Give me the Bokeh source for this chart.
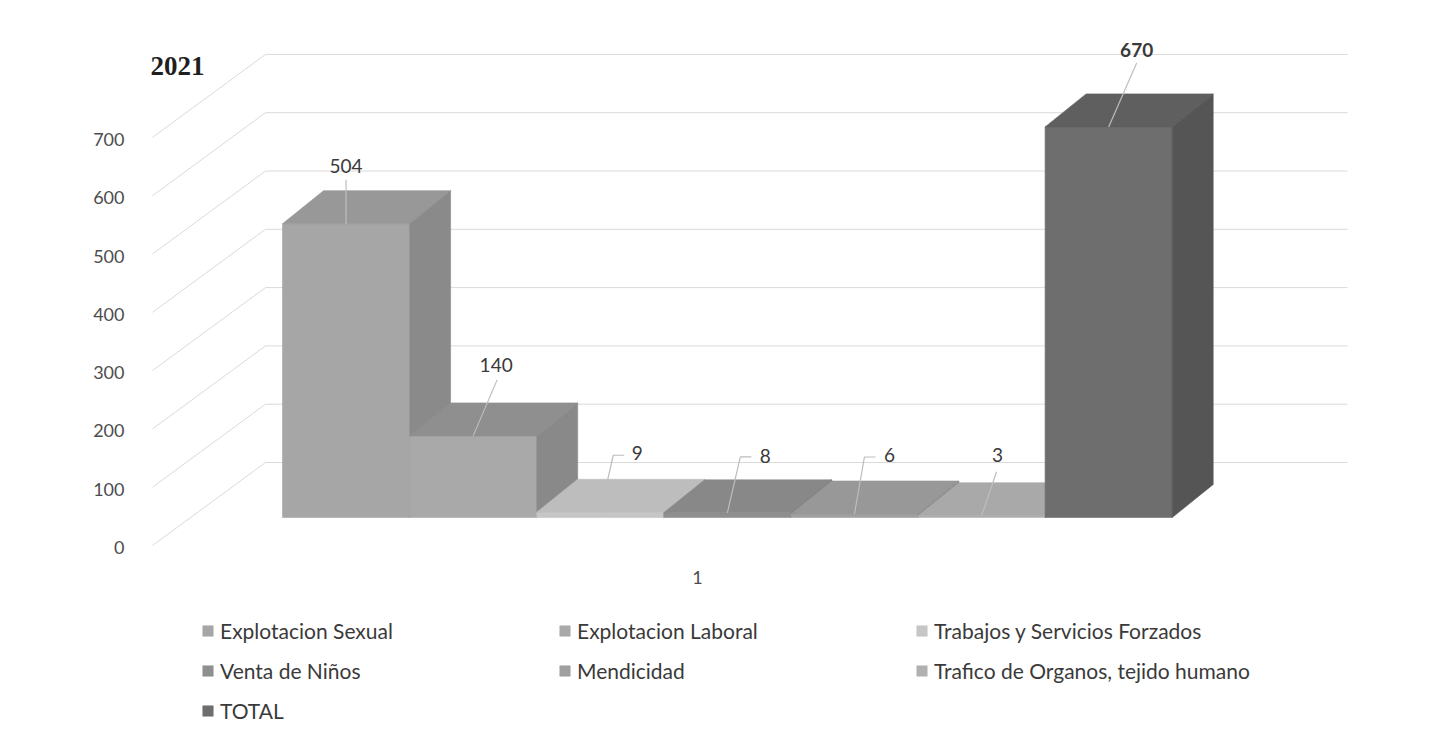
from bokeh.plotting import figure
from bokeh.models import (Range1d, LinearAxis, FixedTicker, CustomJSTickFormatter,
                          Legend, LegendItem, Label)
from bokeh.embed import file_html
from bokeh.resources import INLINE
from bokeh.core.properties import value

# ---------------- data ----------------
title_text = "2021"
categories = ["Explotacion Sexual", "Explotacion Laboral", "Trabajos y Servicios Forzados",
              "Venta de Niños", "Mendicidad", "Trafico de Organos, tejido humano", "TOTAL"]
values = [504, 140, 9, 8, 6, 3, 670]
y_ticks = [0, 100, 200, 300, 400, 500, 600, 700]
x_labels = ["1"]

# ---------------- styles ----------------
front_colors = ["#a6a6a6", "#a9a9a9", "#c6c6c6", "#8f8f8f", "#a0a0a0", "#b1b1b1", "#6e6e6e"]
top_colors = ["#989898", "#8f8f8f", "#bdbdbd", "#888888", "#989898", "#a9a9a9", "#5f5f5f"]
side_colors = ["#8a8a8a", "#898989", "#adadad", "#7b7b7b", "#8b8b8b", "#9c9c9c", "#555555"]
label_styles = ["normal"] * 6 + ["bold"]
# data-label leader offsets in pixels: (line dx, line dy, dash length, text dx, text dy)
label_offsets = [(0, 44, 0, 0, 58), (24, 56, 0, 23, 71), (13, 57, 11, 37, 59),
                 (13, 56, 11, 38, 57), (10, 57, 11, 35, 59), (15, 44, 0, 16, 61),
                 (28, 64, 0, 28, 77)]
TEXT_COLOR = "#3a3a3a"
FONT = "Lato"

PX_X = 127.1          # pixels per bar
PX_Y = 0.583          # pixels per value unit
DX = 41 / PX_X        # bar depth (x)
DY = 33 / PX_Y        # bar depth (y)
LAB_SHIFT = 30 / PX_Y # axis labels sit lower than bar floor
WALL_RISE = 55 / PX_Y # back wall above bar floor

LEFT, TOP = 145, 30           # frame position on the page
BAR_LEFT, FLOOR = 282, 517    # page position of bar 0 left edge / bar floor
FRAME_W, FRAME_H = 1205, 705
X0 = (LEFT - BAR_LEFT) / PX_X
X1 = X0 + FRAME_W / PX_X
Y0 = (FLOOR - (TOP + FRAME_H)) / PX_Y
Y1 = Y0 + FRAME_H / PX_Y

def ypage(py):
    """page pixel row -> value units"""
    return (FLOOR - py) / PX_Y

p = figure(frame_width=FRAME_W, frame_height=FRAME_H,
           x_range=Range1d(X0, X1), y_range=Range1d(Y0, Y1),
           output_backend="svg", toolbar_location=None,
           x_axis_location=None, y_axis_location=None,
           min_border_left=LEFT, min_border_right=78, min_border_top=TOP, min_border_bottom=0,
           outline_line_color=None, background_fill_color="white", border_fill_color="white")
p.grid.visible = False

# y axis (labels)
p.extra_y_ranges = {"lab": Range1d(Y0 + LAB_SHIFT, Y1 + LAB_SHIFT)}
yax = LinearAxis(y_range_name="lab", ticker=FixedTicker(ticks=y_ticks),
                 axis_line_color=None, major_tick_line_color=None, minor_tick_line_color=None,
                 major_label_standoff=15, major_label_text_font=FONT,
                 major_label_text_font_size="18px", major_label_text_color="#4d4d4d")
p.add_layout(yax, "left")

# x axis (category "1"), drawn just under the bars
xax = LinearAxis(ticker=FixedTicker(ticks=[len(values) / 2 - 30 / PX_X]),
                 formatter=CustomJSTickFormatter(args=dict(labels=x_labels), code="return labels[0]"),
                 fixed_location=ypage(585),
                 axis_line_color=None, major_tick_line_color=None, minor_tick_line_color=None,
                 major_tick_out=0, major_tick_in=0,
                 major_label_standoff=2, major_label_text_font=FONT,
                 major_label_text_font_size="18px", major_label_text_color="#4d4d4d")
p.add_layout(xax, "above")

# back wall gridlines
wall_xs, wall_ys = [], []
for t in y_ticks:
    wall_xs.append([(152 - BAR_LEFT) / PX_X, (265 - BAR_LEFT) / PX_X, X1 - 3 / PX_X])
    wall_ys.append([t - LAB_SHIFT + 2 / PX_Y, t + WALL_RISE, t + WALL_RISE])
p.multi_line(wall_xs, wall_ys, line_color="#dadada", line_width=1)

# 3D-looking bars
items = []
for i, (cat, v) in enumerate(zip(categories, values)):
    fr = p.quad(left=[i], right=[i + 1], bottom=[0], top=[v],
                fill_color=front_colors[i], line_color=front_colors[i], line_width=0.6)
    p.patches(xs=[[i, i + 1, i + 1 + DX, i + DX], [i + 1, i + 1 + DX, i + 1 + DX, i + 1]],
              ys=[[v, v, v + DY, v + DY], [0, DY, v + DY, v]],
              fill_color=[top_colors[i], side_colors[i]],
              line_color=[top_colors[i], side_colors[i]], line_width=0.6)
    items.append(LegendItem(label=cat, renderers=[fr]))

# data labels with leader lines
lx, ly, tx, ty, tt = [], [], [], [], []
for i, v in enumerate(values):
    cx = i + 0.5
    ldx, ldy, dash, tdx, tdy = label_offsets[i]
    xs = [cx, cx + ldx / PX_X]
    ys = [v, v + ldy / PX_Y]
    if dash:
        xs.append(cx + (ldx + dash) / PX_X)
        ys.append(v + ldy / PX_Y)
    lx.append(xs)
    ly.append(ys)
    tx.append(cx + tdx / PX_X)
    ty.append(v + tdy / PX_Y)
    tt.append(str(v))
p.multi_line(lx, ly, line_color="#bdbdbd", line_width=1.2)
p.text(x=tx, y=ty, text=tt, text_align="center", text_baseline="middle",
       text_font=value(FONT), text_font_size="19px", text_color=TEXT_COLOR,
       text_font_style=label_styles)

# title
p.add_layout(Label(x=(150 - BAR_LEFT) / PX_X, y=ypage(65), text=title_text,
                   text_font="Liberation Serif", text_font_style="bold",
                   text_font_size="27px", text_color="#1f1f1f", text_baseline="alphabetic"))

# legend (inside the frame area, below the bars)
legend = Legend(items=items, orientation="horizontal", ncols=3, location=(201 - LEFT, 12),
                label_text_font=FONT, label_text_font_size="21px", label_text_color=TEXT_COLOR,
                glyph_width=13, glyph_height=13, label_standoff=6, label_width=323,
                label_height=20, spacing=15, padding=0, margin=0,
                border_line_color=None, background_fill_alpha=0)
p.add_layout(legend, "center")

open("out.html", "w").write(file_html(p, INLINE))
